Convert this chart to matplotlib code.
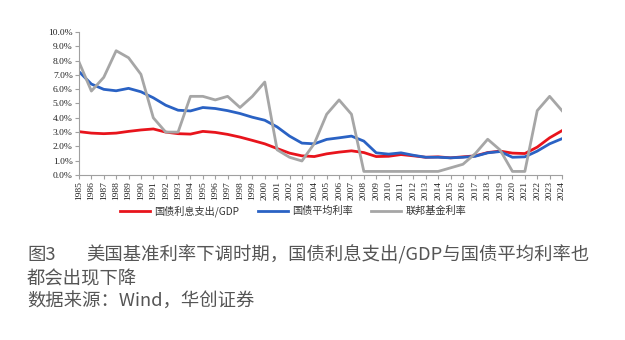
import matplotlib
matplotlib.use("Agg")
import matplotlib.pyplot as plt
from matplotlib.ticker import FuncFormatter, MultipleLocator

plt.rcParams['font.family'] = ['Noto Sans CJK SC', 'DejaVu Sans']

years = list(range(1985, 2025))
interest_gdp = [3.03, 2.93, 2.89, 2.93, 3.05, 3.15, 3.22, 3.00, 2.89, 2.86,
                3.05, 2.98, 2.84, 2.65, 2.42, 2.18, 1.85, 1.53, 1.34, 1.29,
                1.48, 1.60, 1.69, 1.57, 1.29, 1.31, 1.43, 1.34, 1.24, 1.27,
                1.20, 1.27, 1.34, 1.57, 1.67, 1.53, 1.50, 1.95, 2.60, 3.10]
avg_rate = [7.23, 6.36, 5.99, 5.89, 6.06, 5.82, 5.40, 4.88, 4.53, 4.48,
            4.72, 4.65, 4.50, 4.30, 4.04, 3.83, 3.36, 2.72, 2.23, 2.18,
            2.49, 2.60, 2.72, 2.37, 1.55, 1.46, 1.55, 1.38, 1.24, 1.24,
            1.20, 1.24, 1.31, 1.55, 1.64, 1.24, 1.27, 1.67, 2.18, 2.54]
fed_funds = [7.9, 5.87, 6.83, 8.69, 8.2, 7.04, 4.0, 3.0, 3.0, 5.5,
             5.5, 5.25, 5.5, 4.72, 5.5, 6.5, 1.76, 1.24, 0.98, 2.2,
             4.25, 5.25, 4.25, 0.25, 0.25, 0.25, 0.25, 0.25, 0.25, 0.25,
             0.5, 0.75, 1.5, 2.5, 1.75, 0.25, 0.25, 4.5, 5.5, 4.5]
labels = ['国债利息支出/GDP', '国债平均利率', '联邦基金利率']
colors = ['#e8141c', '#2a62c4', '#a6a6a6']

fig = plt.figure(figsize=(6.25, 3.4), dpi=100)
ax = fig.add_axes([79/625, 1-175/340, (562-79)/625, (175-32)/340])

for vals, lab, c in zip([interest_gdp, avg_rate, fed_funds], labels, colors):
    ax.plot(years, vals, color=c, lw=2.0, label=lab, solid_joinstyle='round')

ax.set_xlim(1985, 2024)
ax.set_ylim(0, 10)
ax.yaxis.set_major_locator(MultipleLocator(1))
ax.yaxis.set_major_formatter(FuncFormatter(lambda v, p: f"{v:.1f}%"))
ax.set_xticks(years)
ax.set_xticklabels([str(y) for y in years], rotation=90)
for sp in ['top', 'right']:
    ax.spines[sp].set_visible(False)
for sp in ['left', 'bottom']:
    ax.spines[sp].set_color('#a0a0a0')
    ax.spines[sp].set_linewidth(0.8)
ax.tick_params(axis='both', colors='#a0a0a0', length=3, width=0.8, pad=1.5)
for t in ax.get_xticklabels() + ax.get_yticklabels():
    t.set_color('#222222')
    t.set_fontfamily('Liberation Serif')
    t.set_fontsize(6.8)

leg = fig.legend(loc='center', bbox_to_anchor=(293/625, 1-211/340), ncol=3,
                 frameon=False, fontsize=7.3, handlelength=3.0, columnspacing=1.8,
                 handletextpad=0.4)
for t in leg.get_texts():
    t.set_color('#333333')

cap = '#555555'
fs = 13.2
fig.text(27/625, 1-255/340, '图3', fontsize=fs, color=cap, va='center', ha='left')
fig.text(86/625, 1-255/340, '美国基准利率下调时期，国债利息支出/GDP与国债平均利率也',
         fontsize=fs, color=cap, va='center', ha='left')
fig.text(27/625, 1-279/340, '都会出现下降', fontsize=fs, color=cap, va='center', ha='left')
fig.text(27/625, 1-302/340, '数据来源：Wind，华创证券', fontsize=fs, color=cap, va='center', ha='left')

fig.savefig('out.png', dpi=100)
